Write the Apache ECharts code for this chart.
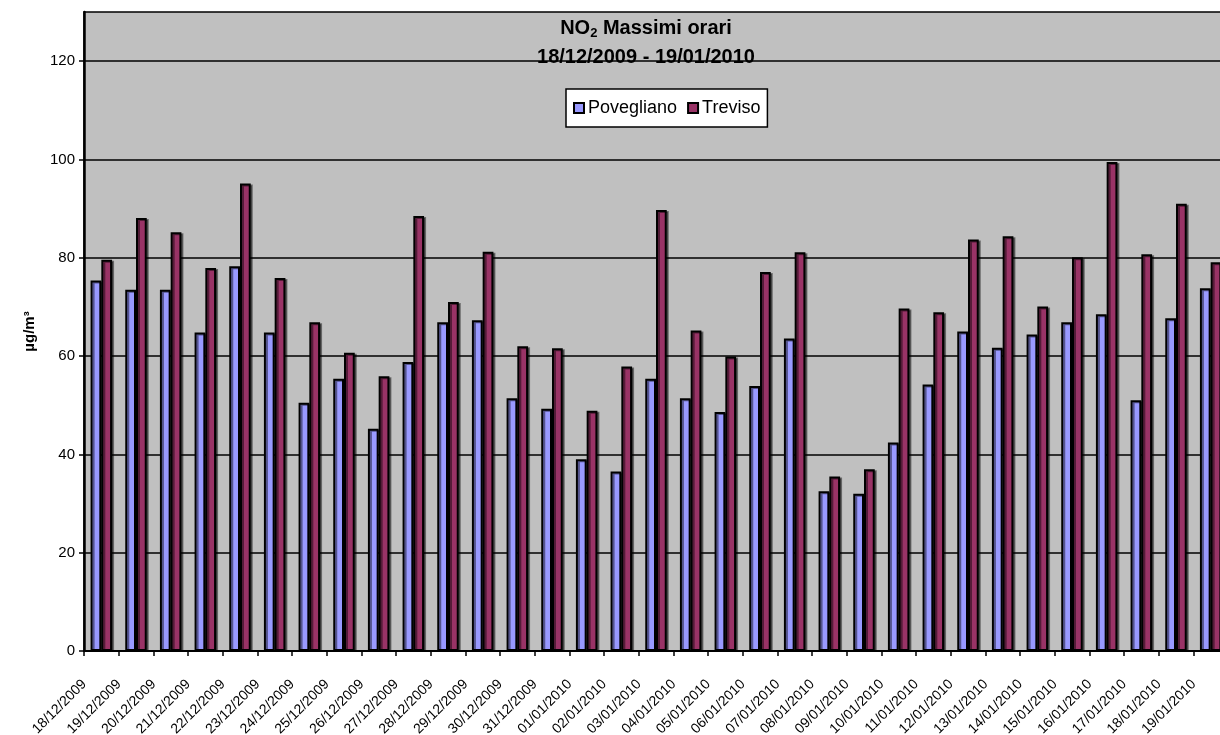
<!DOCTYPE html>
<html>
<head>
<meta charset="utf-8">
<script src="https://cdn.jsdelivr.net/npm/echarts@6/dist/echarts.min.js"></script>
<style>
  html, body { margin: 0; padding: 0; background: #ffffff; }
  #chart { width: 1220px; height: 735px; }
</style>
</head>
<body>
<div id="chart"></div>
<script>
const categories = [
  '18/12/2009','19/12/2009','20/12/2009','21/12/2009','22/12/2009','23/12/2009','24/12/2009',
  '25/12/2009','26/12/2009','27/12/2009','28/12/2009','29/12/2009','30/12/2009','31/12/2009',
  '01/01/2010','02/01/2010','03/01/2010','04/01/2010','05/01/2010','06/01/2010','07/01/2010',
  '08/01/2010','09/01/2010','10/01/2010','11/01/2010','12/01/2010','13/01/2010','14/01/2010',
  '15/01/2010','16/01/2010','17/01/2010','18/01/2010','19/01/2010'
];
const povegliano = [75.4, 73.5, 73.5, 64.8, 78.3, 64.8, 50.5, 55.4, 45.2, 58.8, 66.9, 67.3, 51.4, 49.3, 39.0, 36.5, 55.4, 51.4, 48.6, 53.9, 63.6, 32.5, 32.0, 42.4, 54.2, 65.0, 61.7, 64.4, 66.9, 68.5, 51.0, 67.7, 73.8];
const treviso = [79.6, 88.1, 85.2, 77.9, 95.1, 75.9, 66.9, 60.7, 55.9, 88.5, 71.0, 81.2, 62.0, 61.6, 48.9, 57.9, 89.7, 65.2, 59.9, 77.1, 81.1, 35.5, 37.0, 69.7, 68.9, 83.7, 84.4, 70.1, 80.1, 99.5, 80.7, 91.0, 79.1];
const yTicks = [0, 20, 40, 60, 80, 100, 120];
const seriesNames = ['Povegliano', 'Treviso'];
const titleLine1 = ['NO', '2', ' Massimi orari'];
const titleLine2 = '18/12/2009 - 19/01/2010';
const yAxisName = 'µg/m³';

const FONT = '"Liberation Sans", Arial, sans-serif';
const chart = echarts.init(document.getElementById('chart'), null, { renderer: 'canvas' });

const barStyle = (color) => ({
  color: color,
  borderColor: '#000000',
  borderWidth: 2,
  shadowColor: 'rgba(0,0,0,0.45)',
  shadowOffsetX: 2,
  shadowOffsetY: 1,
  shadowBlur: 0
});

chart.setOption({
  animation: false,
  backgroundColor: '#ffffff',
  textStyle: { fontFamily: FONT },
  grid: {
    left: 84, top: 12, right: -8, bottom: 84,
    show: true,
    backgroundColor: '#C0C0C0',
    borderColor: '#000000',
    borderWidth: 1.5,
    outerBoundsMode: 'none',
    containLabel: false
  },
  graphic: [
    {
      type: 'text',
      x: 646, y: 28,
      z: 100,
      style: {
        text: '{a|' + titleLine1[0] + '}{s|' + titleLine1[1] + '}{a|' + titleLine1[2] + '}',
        align: 'center', verticalAlign: 'middle',
        textAlign: 'center', textVerticalAlign: 'middle',
        fill: '#000',
        rich: {
          a: { fontSize: 20, fontWeight: 'bold', fontFamily: FONT, fill: '#000', color: '#000', lineHeight: 24, height: 24 },
          s: { fontSize: 13, fontWeight: 'bold', fontFamily: FONT, fill: '#000', color: '#000', lineHeight: 14, verticalAlign: 'bottom' }
        }
      }
    },
    {
      type: 'text',
      x: 646, y: 57,
      z: 100,
      style: {
        text: titleLine2,
        align: 'center', verticalAlign: 'middle',
        textAlign: 'center', textVerticalAlign: 'middle',
        fill: '#000',
        font: 'bold 20px ' + FONT
      }
    }
  ],
  legend: {
    data: seriesNames,
    left: 566, top: 89,
    orient: 'horizontal',
    backgroundColor: '#ffffff',
    borderColor: '#000000',
    borderWidth: 1.5,
    borderRadius: 0,
    padding: [10, 7, 10, 7],
    itemWidth: 10, itemHeight: 10,
    itemGap: 10,
    icon: 'rect',
    textStyle: { fontSize: 18, color: '#000', fontFamily: FONT, padding: [0, 0, 0, -1] }
  },
  xAxis: {
    type: 'category',
    data: categories,
    boundaryGap: true,
    axisLine: { show: true, lineStyle: { color: '#000', width: 2 } },
    axisTick: { show: true, alignWithLabel: false, length: 5, lineStyle: { color: '#000', width: 1.5 } },
    axisLabel: {
      interval: 0,
      rotate: 45,
      fontSize: 14,
      color: '#000',
      fontFamily: FONT,
      margin: 14,
      padding: [0, 24, 0, 0]
    },
    splitLine: { show: false }
  },
  yAxis: {
    type: 'value',
    min: 0, max: 130, interval: 20,
    name: yAxisName,
    nameLocation: 'middle',
    nameGap: 47,
    nameRotate: 90,
    nameTextStyle: { fontSize: 15, fontWeight: 'bold', color: '#000', fontFamily: FONT },
    axisLine: { show: true, lineStyle: { color: '#000', width: 2.5 } },
    axisTick: { show: true, length: 5, inside: false, lineStyle: { color: '#000', width: 1.5 }, customValues: yTicks },
    axisLabel: {
      fontSize: 15, color: '#000', fontFamily: FONT, margin: 9,
      customValues: yTicks,
      formatter: (v) => (v > 120 ? '' : String(v))
    },
    splitLine: { show: true, lineStyle: { color: '#000', width: 1.5 } }
  },
  series: [
    {
      name: seriesNames[0],
      type: 'bar',
      data: povegliano,
      barGap: '0%',
      barCategoryGap: '38%',
      itemStyle: barStyle('#9999FF')
    },
    {
      name: seriesNames[1],
      type: 'bar',
      data: treviso,
      barGap: '0%',
      barCategoryGap: '38%',
      itemStyle: barStyle('#993366')
    }
  ]
});
</script>
</body>
</html>
